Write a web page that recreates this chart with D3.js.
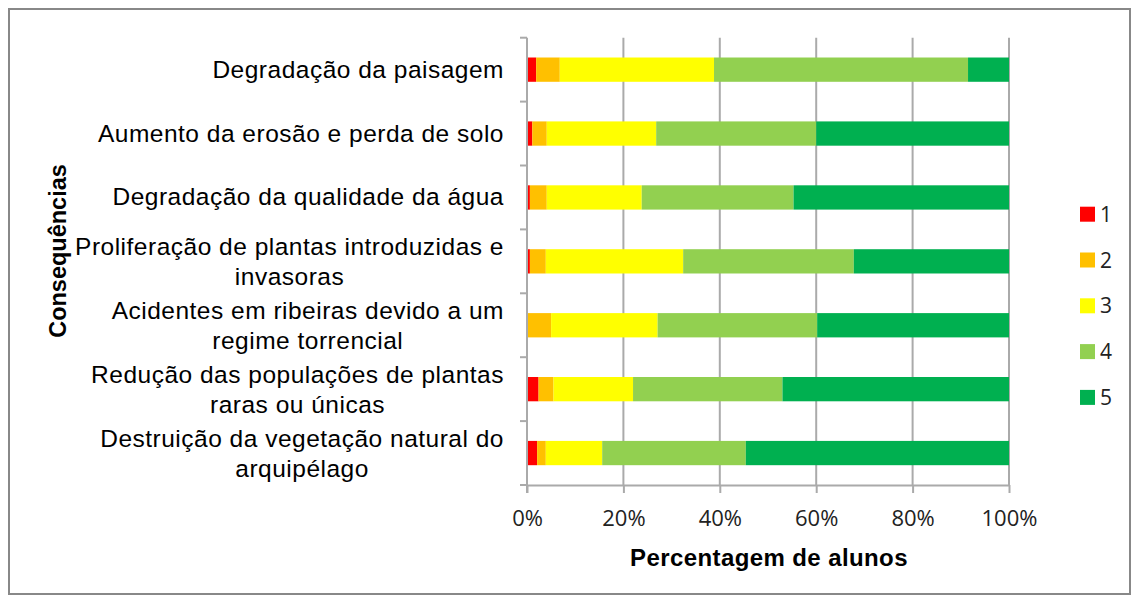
<!DOCTYPE html>
<html>
<head>
<meta charset="utf-8">
<script src="https://cdn.jsdelivr.net/npm/d3@7"></script>
<style>
  body { margin: 0; background: #fff; }
  svg { display: block; }
</style>
</head>
<body>
<div id="root"></div>
<script>
// categories, top to bottom ("\n" marks where the label wraps)
var categories = [
  "Degradação da paisagem",
  "Aumento da erosão e perda de solo",
  "Degradação da qualidade da água",
  "Proliferação de plantas introduzidas e\ninvasoras",
  "Acidentes em ribeiras devido a um\nregime torrencial",
  "Redução das populações de plantas\nraras ou únicas",
  "Destruição da vegetação natural do\narquipélago"
];
var seriesNames = ["1", "2", "3", "4", "5"];
// percentage of students per rating
var s1 = [1.9, 1.1, 0.6, 0.6, 0.0, 2.4, 2.1];
var s2 = [4.9, 3.0, 3.5, 3.3, 5.0, 3.1, 1.8];
var s3 = [32.0, 22.7, 19.7, 28.5, 22.1, 16.5, 11.7];
var s4 = [52.7, 33.2, 31.5, 35.4, 33.1, 31.0, 29.8];
var s5 = [8.5, 40.0, 44.7, 32.2, 39.8, 47.0, 54.6];
var xTicks = [0, 0.2, 0.4, 0.6, 0.8, 1];
var colors = ["#ff0000", "#ffc000", "#ffff00", "#92d050", "#00b050"];

var W = 1132, H = 596;
var plot = {left: 527, right: 1009, top: 37.7, bottom: 485};

var svg = d3.select("#root").append("svg")
    .attr("width", W)
    .attr("height", H);

// outer frame
svg.append("rect")
    .attr("x", 9).attr("y", 9)
    .attr("width", 1121).attr("height", 585)
    .attr("fill", "#fff")
    .attr("stroke", "#888")
    .attr("stroke-width", 2);

var rows = categories.map(function(c, i) {
  return {name: c, "1": s1[i], "2": s2[i], "3": s3[i], "4": s4[i], "5": s5[i]};
});

var stacked = d3.stack()
    .keys(seriesNames)
    .offset(d3.stackOffsetExpand)(rows);

var x = d3.scaleLinear().domain([0, 1]).range([plot.left, plot.right]);
var y = d3.scaleBand().domain(categories).range([plot.top, plot.bottom]);
var barH = y.bandwidth() * 0.38;

// gridlines
svg.append("g").selectAll("line")
  .data(xTicks.slice(1))
  .enter().append("line")
    .attr("x1", function(d) { return x(d); })
    .attr("x2", function(d) { return x(d); })
    .attr("y1", plot.top)
    .attr("y2", plot.bottom)
    .attr("stroke", "#aaa")
    .attr("stroke-width", 2);

// bars
svg.append("g").selectAll("g")
  .data(stacked)
  .enter().append("g")
    .attr("fill", function(d, i) { return colors[i]; })
  .selectAll("rect")
  .data(function(d) { return d; })
  .enter().append("rect")
    .attr("x", function(d) { return x(d[0]); })
    .attr("width", function(d) { return x(d[1]) - x(d[0]); })
    .attr("y", function(d) { return y(d.data.name) + (y.bandwidth() - barH) / 2; })
    .attr("height", barH);

// x axis
var xAxis = svg.append("g")
    .attr("transform", "translate(0," + plot.bottom + ")")
    .call(d3.axisBottom(x).tickValues(xTicks).tickFormat(d3.format(".0%")).tickSizeInner(8).tickSizeOuter(0).tickPadding(17));
xAxis.select(".domain").attr("stroke", "#aaa").attr("stroke-width", 2);
xAxis.selectAll(".tick line").attr("stroke", "#aaa").attr("stroke-width", 2);
xAxis.selectAll("text")
    .attr("font-family", "'Open Sans', sans-serif")
    .attr("font-size", 22)
    .attr("fill", "#222");

// y axis line and ticks at band boundaries
svg.append("line")
    .attr("x1", plot.left).attr("x2", plot.left)
    .attr("y1", plot.top).attr("y2", plot.bottom + 8)
    .attr("stroke", "#aaa").attr("stroke-width", 2);
var bounds = categories.map(function(c) { return y(c); }).concat([plot.bottom]);
svg.append("g").selectAll("line")
  .data(bounds)
  .enter().append("line")
    .attr("x1", plot.left - 7).attr("x2", plot.left)
    .attr("y1", function(d) { return d; })
    .attr("y2", function(d) { return d; })
    .attr("stroke", "#aaa").attr("stroke-width", 2);

// category labels
var labelRight = 504;
var lab = svg.append("g").selectAll("text")
  .data(categories)
  .enter().append("text")
    .attr("font-family", "'Liberation Sans', Arial, sans-serif")
    .attr("font-size", 24.5)
    .attr("letter-spacing", 0.5)
    .attr("fill", "#000")
    .attr("text-anchor", "middle");

lab.each(function(c) {
  var t = d3.select(this);
  var lines = c.split("\n");
  var cy = y(c) + y.bandwidth() / 2;
  var base = cy + 8 - (lines.length - 1) * 14;
  var spans = lines.map(function(l, i) {
    return t.append("tspan").attr("y", base + i * 30).text(l);
  });
  var maxW = d3.max(spans, function(s) { return s.node().getComputedTextLength(); });
  spans.forEach(function(s) { s.attr("x", labelRight - maxW / 2); });
});

// axis titles
svg.append("text")
    .attr("x", 769).attr("y", 566)
    .attr("text-anchor", "middle")
    .attr("font-family", "'Liberation Sans', Arial, sans-serif")
    .attr("font-weight", "bold")
    .attr("font-size", 24)
    .attr("letter-spacing", 0.4)
    .text("Percentagem de alunos");

svg.append("text")
    .attr("transform", "translate(66,251) rotate(-90)")
    .attr("text-anchor", "middle")
    .attr("font-family", "'Liberation Sans', Arial, sans-serif")
    .attr("font-weight", "bold")
    .attr("font-size", 23.5)
    .text("Consequências");

// legend
var leg = svg.append("g").selectAll("g")
  .data(seriesNames)
  .enter().append("g")
    .attr("transform", function(d, i) { return "translate(1080," + (214.2 + i * 45.8) + ")"; });
leg.append("rect")
    .attr("x", 0).attr("y", -7.5)
    .attr("width", 15).attr("height", 15)
    .attr("fill", function(d, i) { return colors[i]; });
leg.append("text")
    .attr("x", 20).attr("y", 7.5)
    .attr("font-family", "'Open Sans', sans-serif")
    .attr("font-size", 21)
    .attr("fill", "#222")
    .text(function(d) { return d; });
</script>
</body>
</html>
